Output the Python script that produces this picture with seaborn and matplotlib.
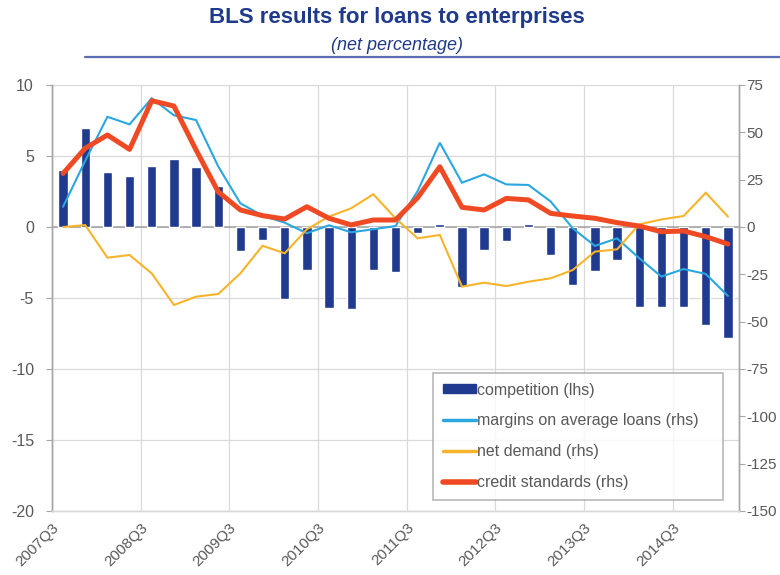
import matplotlib
matplotlib.use("Agg")
import matplotlib.pyplot as plt
import matplotlib.lines as mlines
import matplotlib.patches as mpatches
import seaborn as sns
import numpy as np
import pandas as pd

# ---- data ----
quarters = [f"{y}Q{q}" for y in range(2007, 2016) for q in (1, 2, 3, 4)][2:33]
tick_labels = ["2007Q3", "2008Q3", "2009Q3", "2010Q3", "2011Q3", "2012Q3", "2013Q3", "2014Q3"]

competition = [4.0, 7.0, 3.9, 3.6, 4.3, 4.8, 4.2, 2.9, -1.7, -0.9, -5.1, -3.0, -5.7, -5.8, -3.0, -3.2,
               -0.4, 0.2, -4.2, -1.6, -1.0, 0.2, -2.0, -4.1, -3.1, -2.3, -5.6, -5.6, -5.6, -6.9, -7.8]
margins = [10.7, 35, 58.2, 54.2, 68, 59, 56.5, 32, 12.5, 6, 2.3, -3.3, 0.9, -2.8, -1.2, 0.5,
           19, 44.5, 23.4, 27.8, 22.5, 22.2, 13.5, -0.7, -10, -6, -16.5, -26.2, -22.2, -24.8, -36.4]
net_demand = [0, 1, -16.2, -14.8, -24.5, -41.2, -36.8, -35.4, -24.5, -9.9, -13.9, -1.2, 5.5, 9.9, 17.3, 4.6,
              -6, -4.2, -31.5, -29.4, -31.2, -28.9, -27.1, -22.7, -13, -11.8, 1.4, 4.0, 5.8, 18.1, 5.5]
credit = [28.3, 41.6, 48.6, 41, 66.7, 63.9, 40.7, 18.6, 9.0, 6.0, 4.2, 10.7, 4.6, 1.1, 3.7, 3.7,
          15.5, 31.8, 10.4, 9.0, 15.1, 14.3, 7.2, 5.8, 4.6, 2.3, 0.5, -2.5, -2.1, -5.1, -9.0]

series_names = ["competition (lhs)", "margins on average loans (rhs)", "net demand (rhs)", "credit standards (rhs)"]
colors = ["#1f3a8f", "#2aa7df", "#f7b42a", "#ef4a23"]

df = pd.DataFrame({"quarter": quarters, "pos": np.arange(len(quarters)),
                   "competition": competition, "margins": margins,
                   "net_demand": net_demand, "credit": credit})

sns.set_style("white")
plt.rcParams["font.family"] = ["Liberation Sans", "DejaVu Sans"]
plt.rcParams["axes.unicode_minus"] = False

fig = plt.figure(figsize=(7.8, 5.75), dpi=100)
ax = fig.add_axes([52 / 780, 1 - 511 / 575, 687 / 780, 426 / 575])
ax2 = ax.twinx()

grid_c = "#d9d9d9"
axis_c = "#a6a6a6"
txt_c = "#595959"

# bars
sns.barplot(data=df, x="quarter", y="competition", color=colors[0], width=0.42,
            saturation=1, ax=ax, zorder=3)

# lines on rhs
for col, c, lw in [("margins", colors[1], 1.5), ("net_demand", colors[2], 1.5), ("credit", colors[3], 3.6)]:
    sns.lineplot(data=df, x="pos", y=col, color=c, linewidth=lw, ax=ax2,
                 solid_joinstyle="miter" if lw < 2 else "round")

ax.set_xlim(-0.5, len(quarters) - 0.5)
ax.set_ylim(-20, 10)
ax2.set_ylim(-150, 75)
ax.set_yticks(np.arange(-20, 11, 5))
ax2.set_yticks(np.arange(-150, 76, 25))

xt = [quarters.index(t) - 0.5 for t in tick_labels]
ax.set_xticks(xt)
ax.set_xticklabels(tick_labels, rotation=45, ha="right", rotation_mode="anchor",
                   fontsize=11, color=txt_c)
ax.tick_params(axis="x", length=4, color=axis_c, pad=3)
ax.tick_params(axis="y", length=4, color=axis_c, labelsize=11.5, labelcolor=txt_c, pad=9)
ax2.tick_params(axis="y", length=4, color=axis_c, labelsize=11, labelcolor=txt_c, pad=1.5)

ax.set_xlabel("")
ax.set_ylabel("")
ax2.set_xlabel("")
ax2.set_ylabel("")

# grid
ax.grid(True, axis="both", color=grid_c, linewidth=0.9, zorder=0)
ax.set_axisbelow(True)
ax.axhline(0, color=axis_c, linewidth=1.2, zorder=2)

for a in (ax, ax2):
    a.spines["top"].set_visible(False)
    a.spines["left"].set_color(axis_c)
    a.spines["right"].set_color(axis_c)
    a.spines["bottom"].set_color(grid_c)
    for s in ("left", "right", "bottom"):
        a.spines[s].set_linewidth(1.0)

# legend
handles = [mpatches.Patch(color=colors[0]),
           mlines.Line2D([], [], color=colors[1], linewidth=2.5),
           mlines.Line2D([], [], color=colors[2], linewidth=2.5),
           mlines.Line2D([], [], color=colors[3], linewidth=4)]
leg = ax2.legend(handles, series_names, loc="lower left",
                 bbox_to_anchor=((433 - 52) / 687, (511 - 500) / 426, (723 - 433) / 687, (500 - 375) / 426),
                 mode="expand", fontsize=11.5, frameon=True, fancybox=False, borderaxespad=0,
                 handlelength=2.1, handleheight=0.5, handletextpad=0.05, labelspacing=1.0,
                 borderpad=0.6, labelcolor=txt_c)
leg.get_frame().set_edgecolor("#a6a6a6")
leg.get_frame().set_linewidth(1.2)
leg.set_zorder(10)

# titles
navy = "#1f3a8a"
fig.text(397 / 780, 1 - 18 / 575, "BLS results for loans to enterprises", ha="center", va="center",
         fontsize=16, fontweight="bold", color=navy)
fig.text(397 / 780, 1 - 45 / 575, "(net percentage)", ha="center", va="center",
         fontsize=13, fontstyle="italic", color=navy)
fig.add_artist(mlines.Line2D([85 / 780, 1.0], [1 - 57 / 575, 1 - 57 / 575], color="#5a6db3",
                             linewidth=1.6, transform=fig.transFigure))

fig.savefig("out.png", dpi=100)
